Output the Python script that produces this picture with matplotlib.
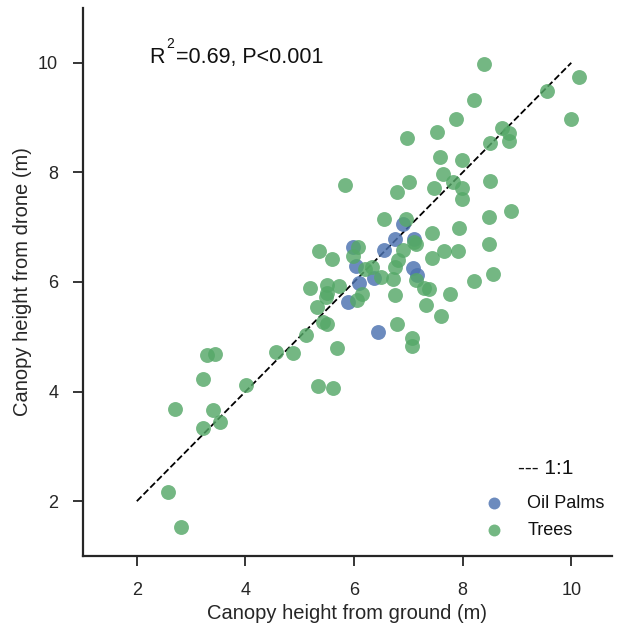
import matplotlib
matplotlib.use("Agg")
import matplotlib.pyplot as plt
from matplotlib.transforms import offset_copy

plt.rcParams['font.family'] = ['Liberation Sans', 'DejaVu Sans']

# Oil palms (blue)
palm_x = [6.90, 6.76, 7.10, 6.56, 5.99, 6.03, 7.08, 7.16, 6.36, 6.09, 5.88, 6.44]
palm_y = [7.06, 6.79, 6.79, 6.59, 6.63, 6.30, 6.25, 6.12, 6.07, 5.98, 5.64, 5.09]

# Trees (green)
tree_x = [8.40, 10.14, 9.56, 8.20, 10.00, 7.88, 6.98, 7.53, 8.72, 8.85, 8.85, 8.51,
          7.58, 7.99, 7.63, 8.51, 7.83, 7.99, 7.48, 7.02, 6.79, 5.83, 7.99,
          8.89, 8.49, 6.56, 6.95, 7.93, 7.43, 8.49, 7.10, 7.15, 6.90, 6.07, 5.35,
          5.99, 5.60, 6.81, 7.43, 7.66, 7.91, 6.76, 6.33, 6.21, 6.49, 6.71, 8.21,
          8.56, 7.15, 7.28, 7.38, 5.72, 5.51, 5.19, 5.51, 6.15, 6.76, 7.77, 5.48,
          6.06, 5.32, 7.33, 7.60, 6.79, 5.42, 5.50, 7.06, 7.06, 5.12, 4.56, 4.88,
          5.69, 3.30, 3.44,
          3.21, 4.01, 5.33, 5.62, 2.70, 3.40, 3.22, 3.54, 2.57, 2.81]
tree_y = [9.98, 9.74, 9.49, 9.32, 8.98, 8.98, 8.63, 8.74, 8.81, 8.71, 8.58, 8.54,
          8.28, 8.23, 7.97, 7.85, 7.82, 7.72, 7.72, 7.82, 7.65, 7.77, 7.52,
          7.30, 7.18, 7.15, 7.15, 6.99, 6.90, 6.70, 6.73, 6.69, 6.59, 6.63, 6.57,
          6.47, 6.42, 6.41, 6.44, 6.56, 6.56, 6.27, 6.27, 6.23, 6.10, 6.06, 6.01,
          6.14, 6.04, 5.89, 5.88, 5.93, 5.94, 5.89, 5.80, 5.79, 5.76, 5.79, 5.72,
          5.67, 5.55, 5.58, 5.38, 5.24, 5.27, 5.24, 4.97, 4.84, 5.04, 4.73, 4.71,
          4.79, 4.66, 4.68,
          4.23, 4.12, 4.11, 4.06, 3.68, 3.66, 3.34, 3.44, 2.16, 1.53]

one_to_one = [2, 10]
x_ticks = [2, 4, 6, 8, 10]
y_ticks = [2, 4, 6, 8, 10]

blue = '#4c72b0'
green = '#55a868'
dark = '#262626'

fig = plt.figure(figsize=(6.25, 6.34), dpi=100)
ax = fig.add_axes([82.5 / 625, 1 - 556 / 634, (612 - 82.5) / 625, (556 - 8) / 634])

ax.plot(one_to_one, one_to_one, ls='--', color='black', lw=1.3, zorder=1)
ax.scatter(palm_x, palm_y, s=115, color=blue, alpha=0.82, linewidths=0, label='Oil Palms', zorder=2)
ax.scatter(tree_x, tree_y, s=115, color=green, alpha=0.82, linewidths=0, label='Trees', zorder=3)

ax.set_xlim(1.0, 10.75)
ax.set_ylim(1.0, 11.0)
ax.set_xticks(x_ticks)
ax.set_yticks(y_ticks)
ax.tick_params(axis='both', direction='out', length=7, width=1.3, color=dark,
               labelsize=13, labelcolor=dark)
ax.tick_params(axis='x', pad=12)
ax.tick_params(axis='y', pad=10.5)
for side in ['top', 'right']:
    ax.spines[side].set_visible(False)
for side in ['left', 'bottom']:
    ax.spines[side].set_linewidth(1.6)
    ax.spines[side].set_color(dark)

ax.set_xlabel('Canopy height from ground (m)', fontsize=14.5, color=dark, labelpad=3)
ax.set_ylabel('Canopy height from drone (m)', fontsize=14.5, color=dark, labelpad=4.5)

# R^2 annotation (superscript drawn as its own raised text)
ax.text(2.22, 10.0, 'R', fontsize=15.5, color='#111111', ha='left', va='baseline')
ax.text(2.22, 10.0, '2', fontsize=10, color='#111111', ha='left', va='baseline',
        transform=offset_copy(ax.transData, fig=fig, x=12.3, y=10.3, units='points'))
ax.text(2.22, 10.0, '=0.69, P<0.001', fontsize=15.5, color='#111111', ha='left', va='baseline',
        transform=offset_copy(ax.transData, fig=fig, x=19.4, y=0, units='points'))

# legend title drawn as text above the legend entries
ax.text(9.52, 2.60, '--- 1:1', fontsize=15, color='#111111', ha='center', va='center')
leg = ax.legend(loc='lower right', bbox_to_anchor=(1.0, 0.018), frameon=False,
                fontsize=13, borderaxespad=0.2, borderpad=0.2, labelspacing=0.55,
                handletextpad=0.85, markerscale=0.8)
for t in leg.get_texts():
    t.set_color('#111111')

fig.savefig('out.png', dpi=100)
